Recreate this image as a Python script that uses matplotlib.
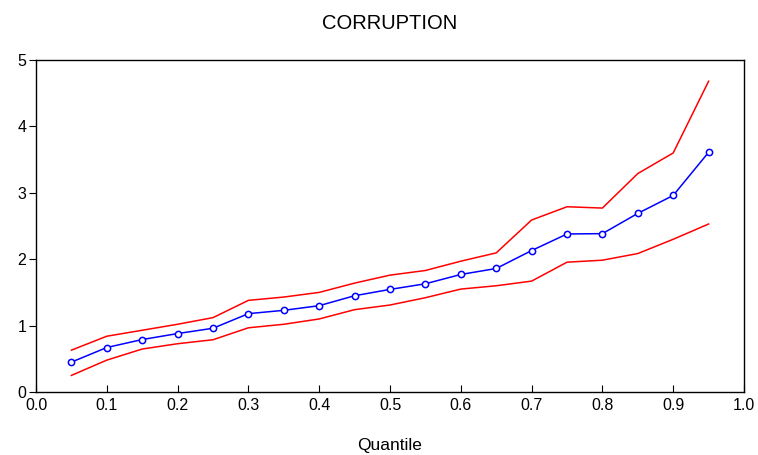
import numpy as np
import matplotlib
matplotlib.use("Agg")
import matplotlib.pyplot as plt

plt.rcParams["font.family"] = ["Liberation Sans", "DejaVu Sans"]

# quantiles and estimates
quantile = [0.05, 0.10, 0.15, 0.20, 0.25, 0.30, 0.35, 0.40, 0.45, 0.50,
            0.55, 0.60, 0.65, 0.70, 0.75, 0.80, 0.85, 0.90, 0.95]
estimate = [0.45, 0.67, 0.79, 0.88, 0.96, 1.18, 1.23, 1.30, 1.45, 1.545,
            1.63, 1.77, 1.86, 2.13, 2.38, 2.385, 2.69, 2.96, 3.61]
upper = [0.63, 0.84, 0.93, 1.02, 1.12, 1.38, 1.43, 1.50, 1.64, 1.76,
         1.83, 1.97, 2.095, 2.59, 2.79, 2.77, 3.29, 3.60, 4.68]
lower = [0.25, 0.48, 0.647, 0.727, 0.787, 0.967, 1.02, 1.10, 1.24, 1.31,
         1.42, 1.55, 1.60, 1.67, 1.955, 1.985, 2.085, 2.30, 2.53]

xticks = np.round(np.arange(0, 1.01, 0.1), 1)
yticks = [0, 1, 2, 3, 4, 5]

fig = plt.figure(figsize=(7.58, 4.55), dpi=100)
ax = fig.add_axes([36 / 758, 1 - 392 / 455, (744 - 36) / 758, (392 - 60) / 455])

ax.plot(quantile, upper, color="red", lw=1.1)
ax.plot(quantile, lower, color="red", lw=1.1)
ax.plot(quantile, estimate, color="blue", lw=1.1, marker="o", markersize=4.5,
        markerfacecolor="white", markeredgecolor="blue", markeredgewidth=1.1)

ax.set_xlim(0, 1.0)
ax.set_ylim(0, 5)
ax.set_xticks(xticks)
ax.set_xticklabels([f"{t:.1f}" for t in xticks])
ax.set_yticks(yticks)
ax.tick_params(axis="x", direction="in", length=5, labelsize=11.5, pad=4)
ax.tick_params(axis="y", direction="out", length=5, labelsize=11.5, pad=2)
for s in ax.spines.values():
    s.set_linewidth(1.0)

ax.set_title("CORRUPTION", fontsize=14.5, pad=22)
ax.set_xlabel("Quantile", fontsize=12.5, labelpad=18)

fig.savefig("out.png", dpi=100)
plt.close(fig)
